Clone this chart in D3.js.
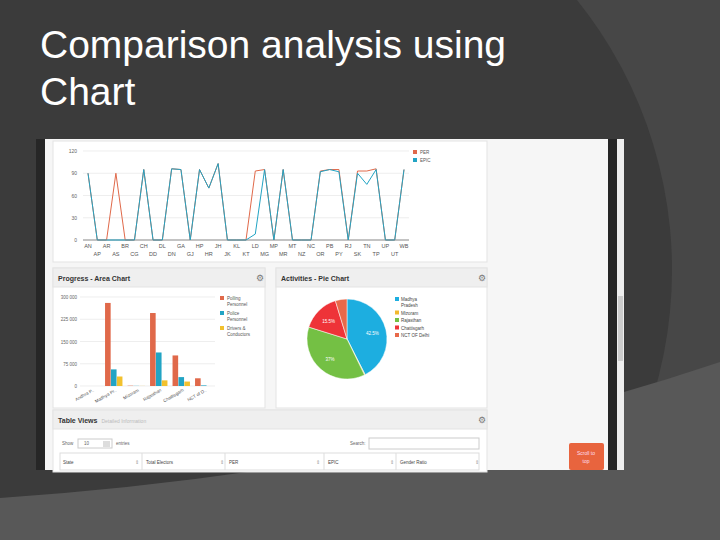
<!DOCTYPE html>
<html>
<head>
<meta charset="utf-8">
<script src="https://cdn.jsdelivr.net/npm/d3@7"></script>
<style>
  body { margin: 0; background: #454545; }
  svg { display: block; font-family: "Liberation Sans", Arial, sans-serif; }
</style>
</head>
<body>
<div id="slide"></div>
<script>
// line chart data
var states = ["AN","AP","AR","AS","BR","CG","CH","DD","DL","DN","GA","GJ","HP","HR","JH","JK","KL","KT",
              "LD","MG","MP","MR","MT","NZ","NC","OR","PB","PY","RJ","SK","TN","TP","UP","UT","WB"];
var perValues  = [90,0,0,90,0,0,95,0,0,96,95,0,95,70,103,0,0,0,93,95,0,95,0,0,0,93,95,95,0,93,93,96,0,0,95];
var epicValues = [90,0,0,0,0,0,95,0,0,96,95,0,95,70,103,0,0,0,8,95,0,95,0,0,0,92,95,92,0,90,75,95,0,0,95];
var lineTicks = [0,30,60,90,120];

// bar chart data
var barStates = ["Andhra P..","Madhya Pr..","Mizoram","Rajasthan","Chattisgarh","NCT of D.."];
var polling = [0,280000,1000,246000,103000,26000];
var police  = [0,56000,500,113000,30000,2000];
var drivers = [0,32000,300,19000,15000,0];
var barTicks = [0,75000,150000,225000,300000];
var barSeries = ["Polling Personnel","Police Personnel","Drivers & Conductors"];

// pie data
var pieLabels = ["Madhya Pradesh","Mizoram","Rajasthan","Chattisgarh","NCT OF Delhi"];
var pieValues = [42.5,0.3,37,15.5,4.7];

var W = 720, H = 540;
var svg = d3.select('#slide').append('svg').attr('width', W).attr('height', H);

// slide background
svg.append('rect').attr('width', W).attr('height', H).attr('fill', '#474747');
svg.append('circle').attr('cx', 241).attr('cy', 270).attr('r', 431).attr('fill', '#3b3b3b');
svg.append('path').attr('d', 'M0,498 Q400,470 720,362 L720,540 L0,540 Z').attr('fill', '#585858');

svg.append('text').attr('x', 40).attr('y', 58).attr('fill', '#fff').style('font-size', '39px').text('Comparison analysis using');
svg.append('text').attr('x', 40).attr('y', 105).attr('fill', '#fff').style('font-size', '39px').text('Chart');

// screenshot frame
svg.append('rect').attr('x', 36).attr('y', 139).attr('width', 588).attr('height', 331).attr('fill', '#262626');
svg.append('rect').attr('x', 45).attr('y', 139).attr('width', 563).attr('height', 331).attr('fill', '#f6f6f6');
svg.append('rect').attr('x', 617).attr('y', 139).attr('width', 7).attr('height', 331).attr('fill', '#eeeeee');
svg.append('rect').attr('x', 618).attr('y', 296).attr('width', 5).attr('height', 65).attr('fill', '#cccccc');

function panel(x, y, w, h, title, sub) {
  svg.append('rect').attr('x', x).attr('y', y).attr('width', w).attr('height', h)
    .attr('fill', '#fff').attr('stroke', '#e3e3e3');
  if (title) {
    svg.append('rect').attr('x', x).attr('y', y).attr('width', w).attr('height', 19)
      .attr('fill', '#efefef').attr('stroke', '#e3e3e3');
    var t = svg.append('text').attr('x', x + 5).attr('y', y + 13).attr('fill', '#333')
      .style('font-size', '7px').style('font-weight', 'bold').text(title);
    if (sub) t.append('tspan').attr('dx', 4).attr('fill', '#bbb').style('font-weight', 'normal').style('font-size', '5px').text(sub);
    svg.append('text').attr('x', x + w - 9).attr('y', y + 13).attr('fill', '#777').style('font-size', '9px').text('⚙');
  }
}

// ---------- line chart ----------
panel(53, 141, 434, 121);
var lx = d3.scalePoint().domain(states).range([88, 404]);
var ly = d3.scaleLinear().domain([0, 120]).range([240, 151]);
var lg = svg.append('g');
lg.selectAll('.grid').data(lineTicks).enter().append('line')
  .attr('x1', 83).attr('x2', 409).attr('y1', function (d) { return ly(d); }).attr('y2', function (d) { return ly(d); })
  .attr('stroke', function (d) { return d === 0 ? '#555' : '#e6e6e6'; }).attr('stroke-width', 0.7);
lg.selectAll('.yt').data(lineTicks).enter().append('text')
  .attr('x', 77).attr('y', function (d) { return ly(d) + 2; }).attr('text-anchor', 'end')
  .attr('fill', '#666').style('font-size', '5px').text(function (d) { return d; });
lg.selectAll('.xt').data(states).enter().append('text')
  .attr('x', function (d) { return lx(d); })
  .attr('y', function (d, i) { return i % 2 === 0 ? 248 : 256; })
  .attr('text-anchor', 'middle').attr('fill', '#555').style('font-size', '5.5px').text(function (d) { return d; });
var line = d3.line().x(function (d, i) { return lx(states[i]); }).y(function (d) { return ly(d); });
lg.append('path').datum(perValues).attr('d', line).attr('fill', 'none').attr('stroke', '#e0694a').attr('stroke-width', 1);
lg.append('path').datum(epicValues).attr('d', line).attr('fill', 'none').attr('stroke', '#22a4c4').attr('stroke-width', 1);
[['PER', '#e0694a'], ['EPIC', '#22a4c4']].forEach(function (d, i) {
  lg.append('rect').attr('x', 413).attr('y', 150 + i * 8).attr('width', 4).attr('height', 4).attr('fill', d[1]);
  lg.append('text').attr('x', 420).attr('y', 154 + i * 8).attr('fill', '#555').style('font-size', '4.5px').text(d[0]);
});

// ---------- bar chart ----------
panel(53, 268, 212, 140, 'Progress - Area Chart');
var bx = d3.scaleBand().domain(barStates).range([80, 215]).paddingInner(0.2).paddingOuter(0.1);
var bs = d3.scaleBand().domain(barSeries).range([0, bx.bandwidth()]).padding(0.05);
var by = d3.scaleLinear().domain([0, 300000]).range([386, 297]);
var bcol = d3.scaleOrdinal().domain(barSeries).range(['#e0694a', '#22a4c4', '#f2c12e']);
var bg = svg.append('g');
bg.selectAll('.grid').data(barTicks).enter().append('line')
  .attr('x1', 80).attr('x2', 215).attr('y1', function (d) { return by(d); }).attr('y2', function (d) { return by(d); })
  .attr('stroke', '#e6e6e6').attr('stroke-width', 0.7);
bg.selectAll('.yt').data(barTicks).enter().append('text')
  .attr('x', 77).attr('y', function (d) { return by(d) + 2; }).attr('text-anchor', 'end')
  .attr('fill', '#666').style('font-size', '4.5px').text(function (d) { return d3.format(',')(d).replace(/,/g, ' '); });
var cols = [polling, police, drivers];
barSeries.forEach(function (s, k) {
  bg.selectAll('.b' + k).data(cols[k]).enter().append('rect')
    .attr('x', function (d, i) { return bx(barStates[i]) + bs(s); })
    .attr('width', bs.bandwidth())
    .attr('y', function (d) { return by(d); })
    .attr('height', function (d) { return 386 - by(d); })
    .attr('fill', bcol(s));
});
bg.selectAll('.xt').data(barStates).enter().append('text')
  .attr('transform', function (d) { return 'translate(' + (bx(d) + bx.bandwidth() / 2 + 3) + ',391) rotate(-30)'; })
  .attr('text-anchor', 'end').attr('fill', '#555').style('font-size', '4.5px').text(function (d) { return d; });
var legLines = [['Polling', 'Personnel'], ['Police', 'Personnel'], ['Drivers &', 'Conductors']];
barSeries.forEach(function (s, i) {
  bg.append('rect').attr('x', 220).attr('y', 296 + i * 15).attr('width', 4).attr('height', 4).attr('fill', bcol(s));
  legLines[i].forEach(function (t, j) {
    bg.append('text').attr('x', 227).attr('y', 300 + i * 15 + j * 6).attr('fill', '#555').style('font-size', '4.5px').text(t);
  });
});

// ---------- pie chart ----------
panel(276, 268, 211, 140, 'Activities - Pie Chart');
var pcol = d3.scaleOrdinal().domain(pieLabels).range(['#1daee0', '#f2b92e', '#74c044', '#ee3338', '#e8694a']);
var pie = d3.pie().sort(null)(pieValues);
var arc = d3.arc().innerRadius(0).outerRadius(40);
var pg = svg.append('g').attr('transform', 'translate(347,339)');
pg.selectAll('path').data(pie).enter().append('path')
  .attr('d', arc).attr('fill', function (d, i) { return pcol(pieLabels[i]); })
  .attr('stroke', '#fff').attr('stroke-width', 0.5);
var labArc = d3.arc().innerRadius(26).outerRadius(26);
pg.selectAll('.pl').data(pie).enter().filter(function (d) { return d.data > 10; }).append('text')
  .attr('transform', function (d) { return 'translate(' + labArc.centroid(d) + ')'; })
  .attr('text-anchor', 'middle').attr('dy', 2).attr('fill', '#fff').style('font-size', '4.5px')
  .text(function (d) { return d3.format('.1f')(d.data).replace('.0', '') + '%'; });
var pLeg = [['Madhya', 'Pradesh'], ['Mizoram'], ['Rajasthan'], ['Chattisgarh'], ['NCT OF Delhi']];
var ly0 = 297;
pLeg.forEach(function (t, i) {
  svg.append('rect').attr('x', 395).attr('y', ly0).attr('width', 4).attr('height', 4).attr('fill', pcol(pieLabels[i]));
  t.forEach(function (s, j) {
    svg.append('text').attr('x', 401).attr('y', ly0 + 4 + j * 6).attr('fill', '#444').style('font-size', '4.5px').text(s);
  });
  ly0 += t.length * 6 + 1.5;
});

// ---------- table ----------
panel(53, 410, 434, 62, 'Table Views', 'Detailed Information');
var tg = svg.append('g').style('font-size', '4.5px').attr('fill', '#666');
tg.append('text').attr('x', 62).attr('y', 445).text('Show');
tg.append('rect').attr('x', 78).attr('y', 439).attr('width', 34).attr('height', 9).attr('fill', '#fff').attr('stroke', '#ccc');
tg.append('text').attr('x', 84).attr('y', 445).text('10');
tg.append('rect').attr('x', 103).attr('y', 441).attr('width', 7).attr('height', 6).attr('fill', '#ddd');
tg.append('text').attr('x', 116).attr('y', 445).text('entries');
tg.append('text').attr('x', 350).attr('y', 445).text('Search:');
tg.append('rect').attr('x', 369).attr('y', 438).attr('width', 110).attr('height', 11).attr('fill', '#fff').attr('stroke', '#ccc');
tg.append('rect').attr('x', 60).attr('y', 453).attr('width', 419).attr('height', 17).attr('fill', '#fff').attr('stroke', '#ddd');
var heads = [['State', 63, 135], ['Total Electors', 146, 220], ['PER', 229, 316], ['EPIC', 328, 390], ['Gender Ratio', 400, 475]];
heads.forEach(function (h) {
  tg.append('text').attr('x', h[1]).attr('y', 464).attr('fill', '#444').text(h[0]);
  tg.append('text').attr('x', h[2]).attr('y', 464).attr('fill', '#999').text('⇕');
});
heads.slice(1).forEach(function (h) {
  tg.append('line').attr('x1', h[1] - 4).attr('x2', h[1] - 4).attr('y1', 453).attr('y2', 470).attr('stroke', '#ddd');
});

// scroll to top button
svg.append('rect').attr('x', 569).attr('y', 443).attr('width', 35).attr('height', 27).attr('rx', 2).attr('fill', '#e8643e');
svg.append('text').attr('x', 586).attr('y', 455).attr('text-anchor', 'middle').attr('fill', '#fde').style('font-size', '5px').text('Scroll to');
svg.append('text').attr('x', 586).attr('y', 463).attr('text-anchor', 'middle').attr('fill', '#fde').style('font-size', '5px').text('top');
</script>
</body>
</html>
